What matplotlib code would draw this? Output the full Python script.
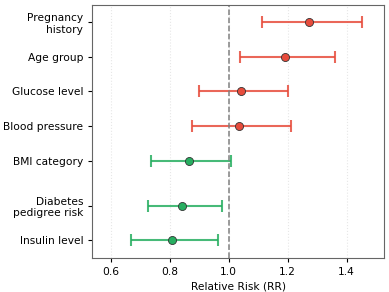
import matplotlib.pyplot as plt
import numpy as np

# factors, top to bottom
factors = ['Pregnancy\nhistory', 'Age group', 'Glucose level', 'Blood pressure',
           'BMI category', 'Diabetes\npedigree risk', 'Insulin level']
rr = [1.273, 1.191, 1.041, 1.035, 0.866, 0.843, 0.809]
ci_low = [1.113, 1.037, 0.900, 0.875, 0.737, 0.725, 0.667]
ci_high = [1.453, 1.360, 1.200, 1.210, 1.007, 0.976, 0.965]
y_pos = [0, 1, 2, 3, 4, 5.3, 6.3]

RED = '#e74c3c'
GREEN = '#27ae60'

fig, ax = plt.subplots(figsize=(3.89, 2.92), dpi=100)

for y, r, lo, hi in zip(y_pos, rr, ci_low, ci_high):
    c = RED if r > 1 else GREEN
    ax.errorbar(r, y, xerr=[[r - lo], [hi - r]], fmt='none',
                ecolor=c, elinewidth=1.5, capsize=4, capthick=1.5, alpha=0.85)
    ax.plot(r, y, 'o', color=c, markersize=5.8,
            markeredgecolor='#333333', markeredgewidth=0.6)

ax.axvline(1.0, color='gray', linestyle='--', linewidth=1.1)

ax.set_yticks(y_pos)
ax.set_yticklabels(factors, fontsize=7.7)
ax.set_ylim(6.8, -0.5)
ax.set_xlim(0.537, 1.526)
ax.set_xticks([0.6, 0.8, 1.0, 1.2, 1.4])
ax.tick_params(axis='x', labelsize=7.7)
ax.tick_params(length=3, width=0.8)
ax.set_xlabel('Relative Risk (RR)', fontsize=7.7, labelpad=3)
ax.grid(axis='x', linestyle=':', alpha=0.3)
for s in ax.spines.values():
    s.set_color('#666666')

plt.subplots_adjust(left=0.237, right=0.987, top=0.984, bottom=0.117)
plt.savefig('out.png')
